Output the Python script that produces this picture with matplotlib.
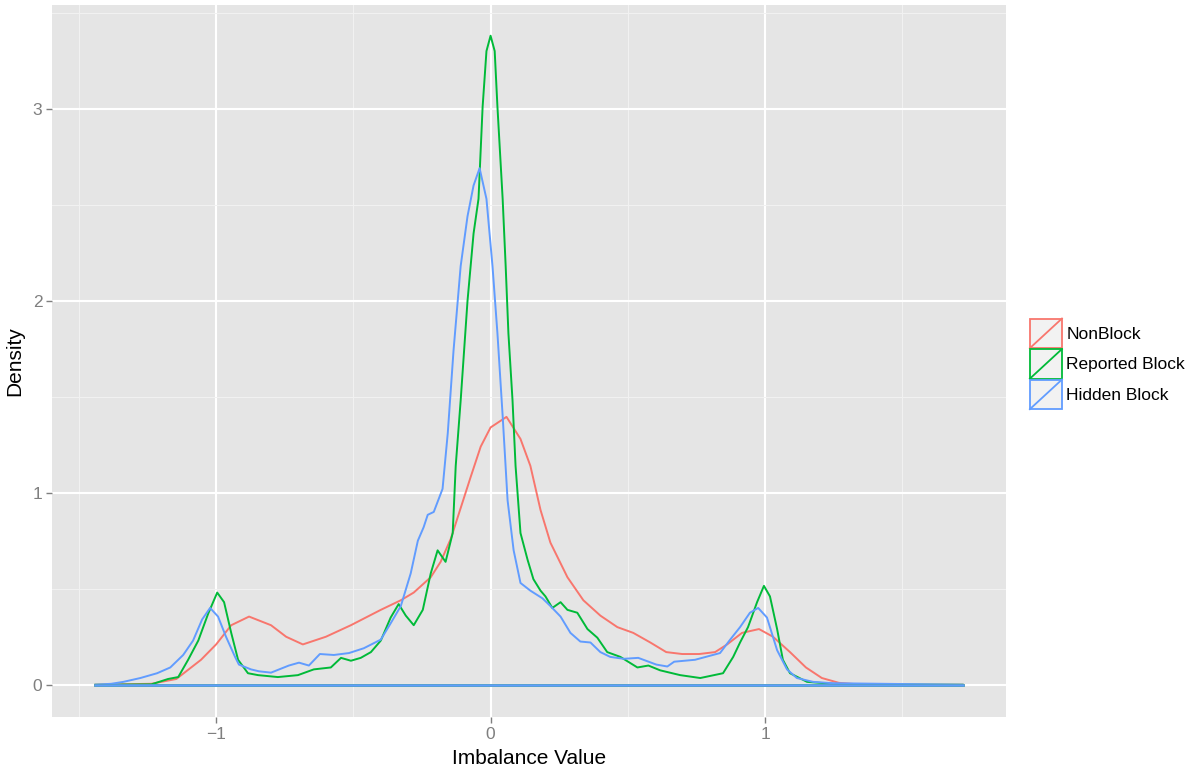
import matplotlib
matplotlib.use("Agg")
import matplotlib.pyplot as plt
from matplotlib.legend_handler import HandlerBase
from matplotlib.patches import Rectangle
from matplotlib.lines import Line2D

plt.rcParams['font.family'] = ['Liberation Sans', 'DejaVu Sans']

# density curves
nonblock_x = [-1.44, -1.236, -1.145, -1.055, -1.0, -0.945, -0.88, -0.80, -0.745, -0.684,
              -0.60, -0.509, -0.40, -0.327, -0.28, -0.218, -0.182, -0.145, -0.109, -0.073,
              -0.036, 0.0, 0.058, 0.109, 0.145, 0.182, 0.218, 0.280, 0.338, 0.400,
              0.462, 0.520, 0.582, 0.640, 0.698, 0.760, 0.818, 0.862, 0.916, 0.978,
              1.029, 1.091, 1.149, 1.207, 1.269, 1.338, 1.491, 1.72]
nonblock_y = [0.0, 0.005, 0.03, 0.13, 0.21, 0.31, 0.355, 0.31, 0.25, 0.21,
              0.25, 0.31, 0.39, 0.44, 0.48, 0.56, 0.64, 0.76, 0.92, 1.08,
              1.24, 1.34, 1.395, 1.28, 1.14, 0.91, 0.74, 0.56, 0.44, 0.36,
              0.30, 0.27, 0.22, 0.17, 0.16, 0.16, 0.17, 0.21, 0.27, 0.29,
              0.25, 0.17, 0.09, 0.035, 0.01, 0.002, 0.0, 0.0]

reported_x = [-1.44, -1.236, -1.175, -1.138, -1.102, -1.065, -1.029, -0.996, -0.971, -0.945,
              -0.92, -0.884, -0.847, -0.775, -0.702, -0.644, -0.582, -0.545, -0.509, -0.473,
              -0.436, -0.40, -0.364, -0.335, -0.309, -0.28, -0.247, -0.218, -0.193, -0.164,
              -0.138, -0.127, -0.109, -0.084, -0.062, -0.044, -0.029, -0.015, 0.0, 0.015,
              0.025, 0.044, 0.055, 0.065, 0.08, 0.091, 0.109, 0.135, 0.156, 0.182,
              0.20, 0.225, 0.255, 0.28, 0.316, 0.353, 0.389, 0.425, 0.473, 0.535,
              0.575, 0.618, 0.691, 0.764, 0.847, 0.884, 0.909, 0.938, 0.971, 0.996,
              1.018, 1.044, 1.065, 1.091, 1.153, 1.273, 1.72]
reported_y = [0.0, 0.002, 0.03, 0.04, 0.13, 0.23, 0.37, 0.48, 0.43, 0.27,
              0.13, 0.06, 0.05, 0.04, 0.05, 0.08, 0.09, 0.14, 0.125, 0.14,
              0.17, 0.23, 0.35, 0.42, 0.36, 0.31, 0.39, 0.58, 0.70, 0.64,
              0.79, 1.14, 1.48, 2.0, 2.35, 2.53, 3.01, 3.30, 3.38, 3.30,
              3.01, 2.53, 2.18, 1.83, 1.48, 1.14, 0.79, 0.65, 0.55, 0.49,
              0.46, 0.40, 0.43, 0.39, 0.375, 0.29, 0.245, 0.17, 0.145, 0.09,
              0.10, 0.075, 0.05, 0.035, 0.06, 0.145, 0.22, 0.30, 0.43, 0.515,
              0.46, 0.29, 0.13, 0.06, 0.015, 0.002, 0.0]

hidden_x = [-1.44, -1.382, -1.338, -1.276, -1.215, -1.167, -1.120, -1.084, -1.051, -1.022,
            -0.993, -0.964, -0.931, -0.917, -0.873, -0.844, -0.800, -0.735, -0.698, -0.662,
            -0.622, -0.571, -0.516, -0.462, -0.400, -0.364, -0.327, -0.291, -0.265, -0.244,
            -0.229, -0.207, -0.175, -0.156, -0.135, -0.109, -0.084, -0.062, -0.040, -0.015,
            0.007, 0.025, 0.044, 0.062, 0.084, 0.109, 0.145, 0.189, 0.218, 0.255,
            0.291, 0.327, 0.364, 0.400, 0.436, 0.485, 0.538, 0.604, 0.644, 0.669,
            0.745, 0.836, 0.873, 0.909, 0.945, 0.975, 1.007, 1.044, 1.080, 1.116,
            1.175, 1.247, 1.72]
hidden_y = [0.0, 0.005, 0.015, 0.035, 0.06, 0.09, 0.155, 0.23, 0.34, 0.40,
            0.355, 0.25, 0.145, 0.105, 0.08, 0.07, 0.063, 0.10, 0.115, 0.10,
            0.16, 0.155, 0.165, 0.19, 0.235, 0.32, 0.41, 0.58, 0.75, 0.82,
            0.885, 0.90, 1.02, 1.31, 1.74, 2.18, 2.44, 2.60, 2.69, 2.53,
            2.18, 1.83, 1.40, 0.96, 0.70, 0.53, 0.49, 0.45, 0.41, 0.355,
            0.27, 0.225, 0.22, 0.17, 0.145, 0.135, 0.14, 0.105, 0.095, 0.12,
            0.13, 0.165, 0.235, 0.30, 0.375, 0.40, 0.35, 0.18, 0.08, 0.035,
            0.015, 0.008, 0.0]

groups = ['NonBlock', 'Reported Block', 'Hidden Block']
colors = ['#F8766D', '#00BA38', '#619CFF']

series = [(nonblock_x, nonblock_y), (reported_x, reported_y), (hidden_x, hidden_y)]


class KeyHandler(HandlerBase):
    def create_artists(self, legend, orig_handle, xdescent, ydescent,
                       width, height, fontsize, trans):
        c = orig_handle.get_color()
        r = Rectangle((-xdescent, -ydescent), width, height, facecolor='#F2F2F2',
                      edgecolor=c, linewidth=1.3, transform=trans)
        d = Line2D([-xdescent, -xdescent + width], [-ydescent, -ydescent + height],
                   color=c, linewidth=1.3, transform=trans)
        return [r, d]


fig = plt.figure(figsize=(11.93, 7.69), dpi=100)
ax = fig.add_axes([52 / 1193, 52 / 769, 954 / 1193, 712 / 769])
ax.set_facecolor('#E5E5E5')

handles = []
for (xs, ys), c, g in zip(series, colors, groups):
    h, = ax.plot(xs, ys, color=c, linewidth=1.4, label=g, solid_joinstyle='round')
    handles.append(h)
# closing baseline of each density polygon
for (xs, ys), c in zip(series, colors):
    ax.plot([xs[0], xs[-1]], [0, 0], color=c, linewidth=1.8)

ax.set_xlim(-1.598, 1.878)
ax.set_ylim(-0.168, 3.54)
ax.set_xticks([-1, 0, 1])
ax.set_xticklabels(['\u22121', '0', '1'])
ax.set_yticks([0, 1, 2, 3])
ax.set_xticks([-1.5, -0.5, 0.5, 1.5], minor=True)
ax.set_yticks([0.5, 1.5, 2.5, 3.5], minor=True)
ax.grid(which='major', color='white', linewidth=1.5)
ax.grid(which='minor', color='#F2F2F2', linewidth=0.7)
ax.set_axisbelow(True)
for s in ax.spines.values():
    s.set_visible(False)
ax.tick_params(which='major', length=4, width=1, color='#7F7F7F',
               labelcolor='#7F7F7F', labelsize=12.5, pad=3)
ax.tick_params(which='minor', length=0)

ax.set_xlabel('Imbalance Value', fontsize=15, labelpad=5)
ax.set_ylabel('Density', fontsize=15, labelpad=6)

leg = ax.legend(handles=handles, handler_map={Line2D: KeyHandler()},
                loc='center left', bbox_to_anchor=(1.025, 0.496), frameon=False,
                fontsize=12.5, handlelength=1.85, handleheight=2.25,
                handletextpad=0.25, labelspacing=0.05, borderaxespad=0.0,
                borderpad=0.0)

fig.savefig('out.png', dpi=100)
